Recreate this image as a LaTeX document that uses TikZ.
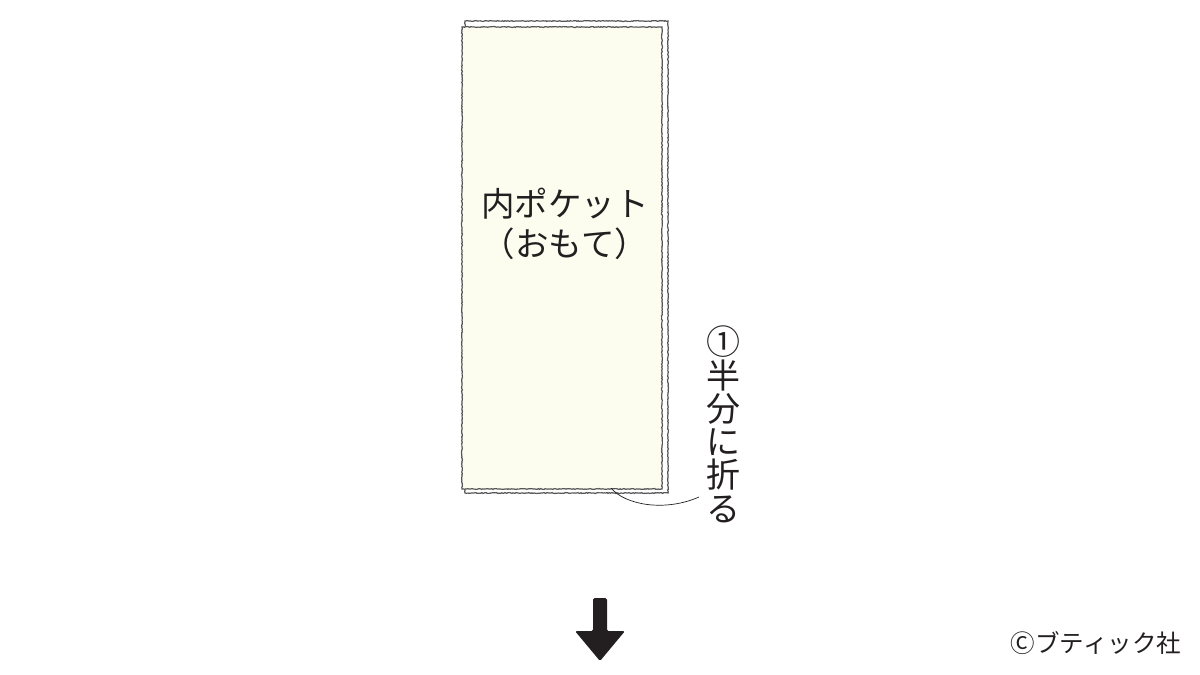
\documentclass[tikz,border=0pt]{standalone}
\usepackage{fontspec}
\setmainfont{Noto Sans CJK JP}
\usetikzlibrary{decorations.pathmorphing}
\definecolor{cream}{HTML}{FDFDEF}
\definecolor{sketch}{HTML}{555555}
\definecolor{ink}{HTML}{231F20}
\tikzset{
  x=1pt,y=-1pt,
  sketchy/.style={draw=sketch,line width=1.2pt,decorate,decoration={random steps,segment length=1.3pt,amplitude=0.45pt}},
  lbl/.style={text=ink,inner sep=0pt,font=\fontsize{33.5}{40}\selectfont,align=center},
  vlbl/.style={text=ink,inner sep=0pt,font=\fontsize{34}{34}\selectfont},
}
\begin{document}
\begin{tikzpicture}
\useasboundingbox (0,0) rectangle (1200,675);
\fill[white] (0,0) rectangle (1200,675);
% back layer
\path[fill=white] (465,21) rectangle (668,493);
\draw[sketchy] (465,21) -- (668,21) -- (668,493) -- (465,493) -- cycle;
% front layer
\path[fill=cream] (462,27) rectangle (662,489);
\draw[sketchy] (462,27) -- (662,27) -- (662,489) -- (462,489) -- cycle;
\node[lbl] (title) at (565,224) {内ポケット\\（おもて）};
% leader curve
\coordinate (fold) at (611,488);
\coordinate (lead) at (699,497);
\draw[ink,line width=0.7pt] (fold) .. controls (625,505) and (665,512) .. (lead);
% vertical label
\node[vlbl] (c0) at (723,342) {①};
\node[vlbl] (c1) at (723,376) {半};
\node[vlbl] (c2) at (723,409) {分};
\node[vlbl] (c3) at (723,442) {に};
\node[vlbl] (c4) at (723,475) {折};
\node[vlbl] (c5) at (723,509) {る};
% down arrow
\coordinate (atop) at (600,598);
\fill[ink,rounded corners=1.5pt] (593,598) -- (607,598) -- (607,631) -- (625,631) -- (600,661) -- (575,631) -- (593,631) -- cycle;
% copyright
\node[text=ink,inner sep=0pt,font=\fontsize{24.5}{25}\selectfont] (copy) at (1096,643) {Ⓒブティック社};
\end{tikzpicture}
\end{document}
